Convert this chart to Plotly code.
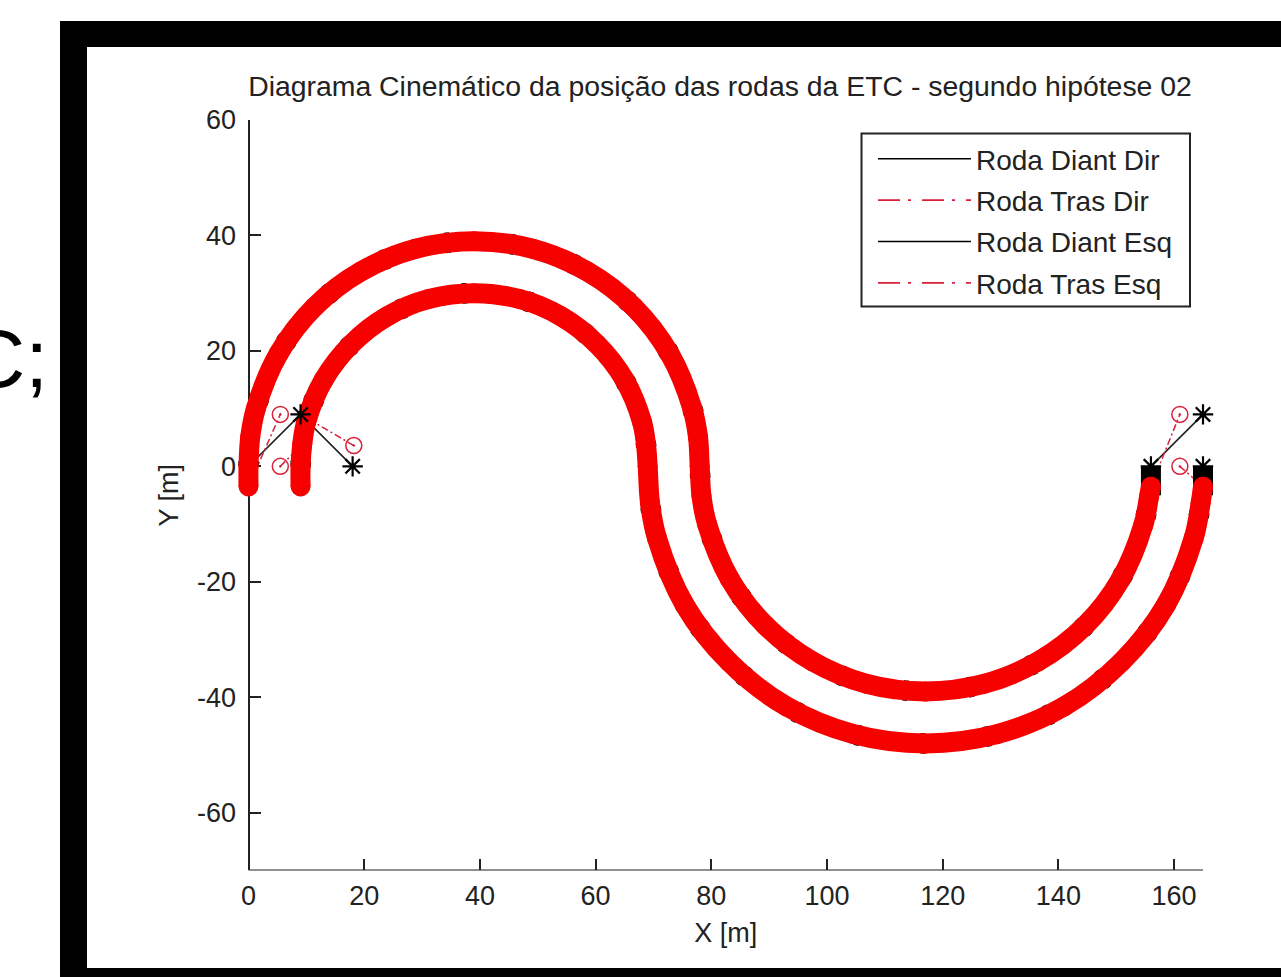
import plotly.graph_objects as go

W, H = 1281, 977
FONT = "Liberation Sans"
INK = "#222222"
THIN_RED = "#d8203a"

X_TICKS = [0, 20, 40, 60, 80, 100, 120, 140, 160]
Y_TICKS = [-60, -40, -20, 0, 20, 40, 60]
Y_LABELS = ["-60", "-40", "-20", "0", "20", "40", "60"]

TITLE = "Diagrama Cinemático da posição das rodas da ETC - segundo hipótese 02"
NAMES = ["Roda Diant Dir", "Roda Tras Dir", "Roda Diant Esq", "Roda Tras Esq"]

# front wheel paths
DIR_X = [9, 9.3, 10, 13, 17.8, 24, 31.2, 39, 46.8, 54, 60.2, 65, 68, 68.7, 69,
         69.4, 70.6, 75.4, 83.1, 93, 104.6, 117, 129.4, 141, 150.9, 158.6, 163.4, 164.6, 165]
DIR_Y = [0, 3.9, 7.8, 15, 21.2, 26, 29, 30, 29, 26, 21.2, 15, 7.8, 3.9, 0,
         -6.3, -12.4, -24, -33.9, -41.6, -46.4, -48, -46.4, -41.6, -33.9, -24, -12.4, -6.3, 0]
ESQ_X = [0, 0.3, 1.3, 5.2, 11.4, 19.5, 28.9, 39, 49.1, 58.5, 66.6, 72.8, 76.7, 77.7, 78,
         78.3, 79.3, 83.2, 89.4, 97.5, 106.9, 117, 127.1, 136.5, 144.6, 150.8, 154.7, 155.7, 156]
ESQ_Y = [0, 5.1, 10.1, 19.5, 27.6, 33.8, 37.7, 39, 37.7, 33.8, 27.6, 19.5, 10.1, 5.1, 0,
         -5.1, -10.1, -19.5, -27.6, -33.8, -37.7, -39, -37.7, -33.8, -27.6, -19.5, -10.1, -5.1, 0]

# rear wheel paths: same tracks, both ends sit lower
TRAS_DIR_X = [9] + DIR_X[:-1] + [165]
TRAS_DIR_Y = [-3.5] + DIR_Y[:-1] + [-3.5]
TRAS_ESQ_X = [0] + ESQ_X[:-1] + [156]
TRAS_ESQ_Y = [-3.5] + ESQ_Y[:-1] + [-3.5]

# black stubs left showing above the red at the finish
STUB_X = [156, 156, None, 165, 165]
STUB_Y = [0, -5, None, 0, -5]

# vehicle sketches at the start and end of the manoeuvre
FRAME_X = [0, 9, 18, None, 156, 165]
FRAME_Y = [0, 9, 0, None, 0, 9]
REAR_LINK_X = [0, 5.5, None, 5.5, 9, None, 18.2, 9, None, 156, 161, None, 161, 165]
REAR_LINK_Y = [-3.5, 9, None, 0, 3.5, None, 3.6, 9, None, -3.5, 9, None, 0, -3.5]
STAR_X = [9, 18, 165, 156, 165]
STAR_Y = [9, 0, 9, 0, 0]
CIRCLE_X = [5.5, 5.5, 18.2, 161, 161]
CIRCLE_Y = [9, 0, 3.6, 9, 0]


def px_x(p):
    return p / W


def px_y(p):
    return 1 - p / H


fig = go.Figure()

# named thin series (carry the legend)
for i, (x, y, name, color, dash) in enumerate([
    (DIR_X, DIR_Y, NAMES[0], "black", "solid"),
    (TRAS_DIR_X, TRAS_DIR_Y, NAMES[1], THIN_RED, "22px,8px,3px,11px"),
    (ESQ_X, ESQ_Y, NAMES[2], "black", "solid"),
    (TRAS_ESQ_X, TRAS_ESQ_Y, NAMES[3], THIN_RED, "22px,8px,3px,11px"),
]):
    fig.add_trace(go.Scatter(x=x, y=y, name=name, mode="lines", legendgroup=str(i),
                             line=dict(color=color, width=1.6, dash=dash, shape="spline")))

fig.add_trace(go.Scatter(x=FRAME_X, y=FRAME_Y, mode="lines", showlegend=False,
                         line=dict(color="#222222", width=1.6)))
fig.add_trace(go.Scatter(x=REAR_LINK_X, y=REAR_LINK_Y, mode="lines", showlegend=False,
                         line=dict(color=THIN_RED, width=1.5, dash="7px,3px,2px,3px")))

# black front wheel marks peek out in flecks from under the red
for x, y in [(DIR_X, DIR_Y), (ESQ_X, ESQ_Y)]:
    fig.add_trace(go.Scatter(x=x, y=y, mode="lines", showlegend=False,
                             line=dict(color="black", width=20.5, shape="spline", dash="5px,60px")))
fig.add_trace(go.Scatter(x=STUB_X, y=STUB_Y, mode="lines", showlegend=False,
                         line=dict(color="black", width=20)))
for x, y in [(TRAS_DIR_X, TRAS_DIR_Y), (TRAS_ESQ_X, TRAS_ESQ_Y)]:
    fig.add_trace(go.Scatter(x=x, y=y, mode="lines+markers", showlegend=False, cliponaxis=False,
                             line=dict(color="#f70000", width=20, shape="spline"),
                             marker=dict(color="#f70000", size=20)))

fig.add_trace(go.Scatter(x=STAR_X, y=STAR_Y, mode="markers", showlegend=False, cliponaxis=False,
                         marker=dict(symbol="asterisk-open", size=17, color="black",
                                     line=dict(color="black", width=2.2))))
fig.add_trace(go.Scatter(x=CIRCLE_X, y=CIRCLE_Y, mode="markers", showlegend=False, cliponaxis=False,
                         marker=dict(symbol="circle-open-dot", size=16, color=THIN_RED,
                                     line=dict(color=THIN_RED, width=1.5))))

fig.update_layout(
    width=W, height=H, autosize=False,
    margin=dict(l=0, r=0, t=0, b=0, pad=0),
    paper_bgcolor="white", plot_bgcolor="rgba(0,0,0,0)",
    font=dict(family=FONT, size=27, color=INK),
    title=dict(text=TITLE, x=px_x(720), y=px_y(86), xref="container", yref="container",
               xanchor="center", yanchor="middle", font=dict(family=FONT, size=28.4, color=INK)),
    xaxis=dict(
        domain=[px_x(231.15), px_x(1220.35)], range=[-3, 168], automargin=False,
        tickmode="array", tickvals=X_TICKS, ticks="inside", ticklen=11, tickwidth=1.5,
        tickcolor=INK, showline=False, showgrid=False, zeroline=False, layer="below traces",
        ticklabelstandoff=7, title=dict(text="X [m]", standoff=12, font=dict(size=27)), anchor="y",
    ),
    yaxis=dict(
        domain=[px_y(870.4), px_y(120)], range=[-70, 60], automargin=False,
        tickmode="array", tickvals=Y_TICKS, ticktext=Y_LABELS, ticks="inside", ticklen=11, tickwidth=1.5,
        tickcolor=INK, showline=True, linecolor=INK, linewidth=2, showgrid=False, zeroline=False,
        layer="below traces", anchor="free", position=px_x(248.5), ticklabelstandoff=6,
        title=dict(text="Y [m]", standoff=10, font=dict(size=27)),
    ),
    showlegend=True,
    legend=dict(
        x=px_x(873), y=px_y(134), xanchor="left", yanchor="top",
        bgcolor="rgba(0,0,0,0)", borderwidth=0,
        itemwidth=93, tracegroupgap=2, traceorder="grouped",
        font=dict(family=FONT, size=28, color=INK),
    ),
    shapes=[
        dict(type="rect", xref="paper", yref="paper", layer="below", line_width=0, fillcolor="black",
             x0=px_x(60), x1=1, y0=0, y1=px_y(21)),
        dict(type="rect", xref="paper", yref="paper", layer="below", line_width=0, fillcolor="white",
             x0=px_x(87), x1=1, y0=px_y(968), y1=px_y(47)),
        dict(type="line", xref="x", yref="y", layer="below", x0=0, x1=165, y0=-70, y1=-70,
             line=dict(color=INK, width=2)),
        dict(type="rect", xref="paper", yref="paper", layer="above", fillcolor="rgba(0,0,0,0)",
             line=dict(color=INK, width=2),
             x0=px_x(861.5), x1=px_x(1190), y0=px_y(306.5), y1=px_y(133.5)),
    ],
    annotations=[
        dict(text="C;", xref="paper", yref="paper", x=px_x(50), y=px_y(358), xanchor="right",
             yanchor="middle", showarrow=False, font=dict(family=FONT, size=82, color="black")),
    ],
)

fig.write_html("out.html", config={"displayModeBar": False},
               post_script="document.body.style.margin='0';document.body.style.overflow='hidden';")
